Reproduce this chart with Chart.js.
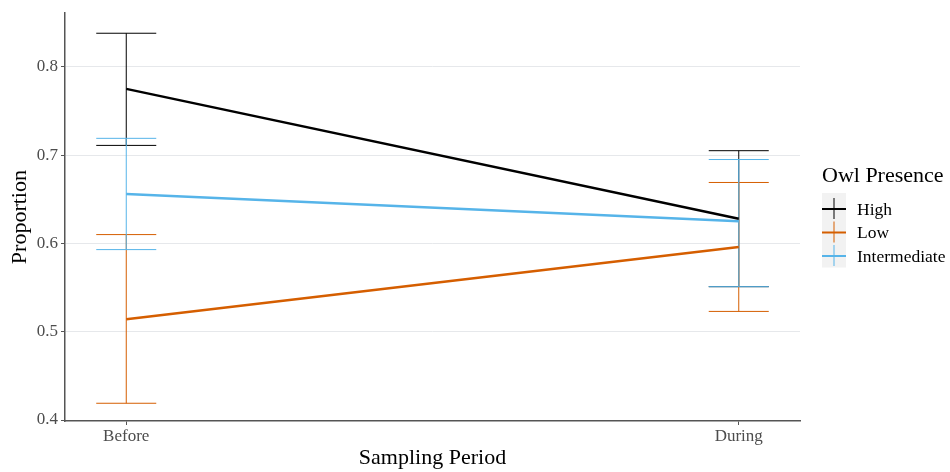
<!DOCTYPE html>
<html><head><meta charset="utf-8">
<script src="https://cdn.jsdelivr.net/npm/chart.js@4/dist/chart.umd.min.js"></script>
<style>html,body{margin:0;padding:0;background:#fff}#wrap{width:950px;height:472px}</style>
</head><body><div id="wrap"><canvas id="c"></canvas></div>
<script>
const categories = ["Before", "During"];
const seriesNames = ["High", "Low", "Intermediate"];
const seriesColors = ["#000000", "#D55E00", "#56B4E9"];
const highMean = [0.775, 0.628];
const highLower = [0.711, 0.551];
const highUpper = [0.838, 0.705];
const lowMean = [0.514, 0.596];
const lowLower = [0.419, 0.523];
const lowUpper = [0.610, 0.669];
const interMean = [0.656, 0.625];
const interLower = [0.593, 0.551];
const interUpper = [0.719, 0.695];
const yTicks = [0.4, 0.5, 0.6, 0.7, 0.8];

const means = [highMean, lowMean, interMean];
const lowers = [highLower, lowLower, interLower];
const uppers = [highUpper, lowUpper, interUpper];

const SERIF = "'Liberation Serif', 'DejaVu Serif', serif";

const datasets = seriesNames.map((n, i) => ({
  label: n,
  data: means[i].map((v, j) => ({x: j, y: v})),
  borderColor: seriesColors[i],
  backgroundColor: seriesColors[i],
  borderWidth: 2.5,
  pointRadius: 0,
  showLine: true,
  lower: lowers[i],
  upper: uppers[i]
}));

const errorBars = {
  id: 'errorBars',
  beforeDatasetsDraw(chart) {
    const {ctx, scales: {x, y}} = chart;
    const capHalf = 0.049;
    ctx.save();
    ctx.lineWidth = 1;
    chart.data.datasets.forEach(ds => {
      ctx.strokeStyle = ds.borderColor;
      ds.lower.forEach((lo, j) => {
        const hi = ds.upper[j];
        const xc = x.getPixelForValue(j);
        const xl = x.getPixelForValue(j - capHalf);
        const xr = x.getPixelForValue(j + capHalf);
        const yl = y.getPixelForValue(lo), yh = y.getPixelForValue(hi);
        ctx.beginPath();
        ctx.moveTo(xc, yl); ctx.lineTo(xc, yh);
        ctx.moveTo(xl, yl); ctx.lineTo(xr, yl);
        ctx.moveTo(xl, yh); ctx.lineTo(xr, yh);
        ctx.stroke();
      });
    });
    ctx.restore();
  }
};

const customLegend = {
  id: 'customLegend',
  afterDraw(chart) {
    const ctx = chart.ctx;
    ctx.save();
    ctx.fillStyle = '#000';
    ctx.font = "22px " + SERIF;
    ctx.textAlign = 'left';
    ctx.textBaseline = 'alphabetic';
    ctx.fillText("Owl Presence", 822, 182);
    const x0 = 822, w = 24, rowH = 23.5, y0 = 197;
    ctx.fillStyle = '#f2f2f2';
    ctx.fillRect(x0, y0 - 4, w, rowH * 3 + 4);
    chart.data.datasets.forEach((ds, i) => {
      const cy = y0 + rowH * i + 12;
      ctx.strokeStyle = ds.borderColor;
      ctx.lineWidth = 2;
      ctx.beginPath();
      ctx.moveTo(x0, cy); ctx.lineTo(x0 + w, cy);
      ctx.stroke();
      ctx.lineWidth = 1;
      ctx.beginPath();
      ctx.moveTo(x0 + w / 2, cy - 11); ctx.lineTo(x0 + w / 2, cy + 10);
      ctx.stroke();
      ctx.fillStyle = '#000';
      ctx.font = "17.5px " + SERIF;
      ctx.textBaseline = 'middle';
      ctx.fillText(ds.label, 857, cy + 1);
    });
    ctx.restore();
  }
};

new Chart(document.getElementById('c'), {
  type: 'scatter',
  data: {datasets},
  plugins: [errorBars, customLegend],
  options: {
    responsive: true,
    maintainAspectRatio: false,
    animation: false,
    layout: {padding: {left: 0, right: 150, top: 10, bottom: 0}},
    plugins: {legend: {display: false}, tooltip: {enabled: false}},
    scales: {
      x: {
        type: 'linear',
        min: -0.1, max: 1.1,
        afterBuildTicks: s => { s.ticks = categories.map((c, i) => ({value: i})); },
        afterFit: s => { s.height = 51; },
        ticks: {
          callback: v => categories[v] ?? '',
          color: '#4d4d4d',
          font: {family: SERIF, size: 17},
          padding: 1,
          maxRotation: 0
        },
        grid: {drawOnChartArea: false, tickLength: 4, color: '#555', lineWidth: 1},
        border: {color: '#555', width: 1.5},
        title: {display: true, text: 'Sampling Period', color: '#000',
                font: {family: SERIF, size: 22}, padding: {top: 0, bottom: 1}}
      },
      y: {
        min: 0.3989, max: 0.8607,
        afterBuildTicks: s => { s.ticks = yTicks.map(v => ({value: v})); },
        afterFit: s => { s.width = 65; },
        ticks: {
          callback: v => v.toFixed(1),
          color: '#4d4d4d',
          font: {family: SERIF, size: 17},
          padding: 3
        },
        grid: {color: '#e6e8eb', lineWidth: 1, tickLength: 4, tickColor: '#555'},
        border: {color: '#555', width: 1.5},
        title: {display: true, text: 'Proportion', color: '#000',
                font: {family: SERIF, size: 22}, padding: {top: 7, bottom: 0}}
      }
    }
  }
});
</script></body></html>
